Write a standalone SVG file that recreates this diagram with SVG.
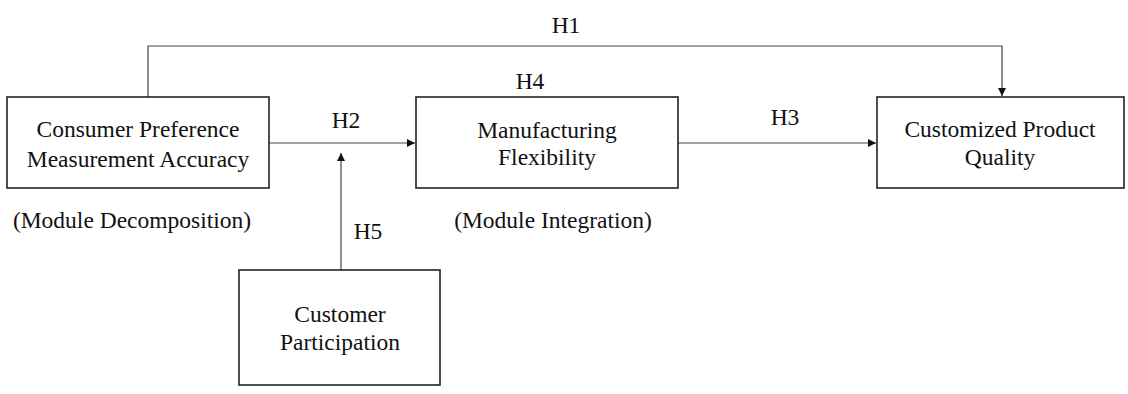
<svg xmlns="http://www.w3.org/2000/svg" width="1128" height="394" viewBox="0 0 1128 394">
  <style>
    .box { fill: #ffffff; stroke: #222222; stroke-width: 1.6; }
    .lbl { font-family: "Liberation Serif", "Times New Roman", serif; font-size: 23.5px; fill: #111111; text-anchor: middle; }
    .edge { fill: none; stroke: #444444; stroke-width: 1.2; }
  </style>
  <defs>
    <marker id="arrow" viewBox="0 0 10 10" refX="10" refY="5" markerWidth="8" markerHeight="8" markerUnits="userSpaceOnUse" orient="auto">
      <path d="M0,0 L10,5 L0,10 Z" fill="#111111"/>
    </marker>
  </defs>
  <rect width="1128" height="394" fill="#ffffff"/>

  <g id="connectors">
    <path id="h1" class="edge" d="M148,97 V46 H1002 V96" marker-end="url(#arrow)"/>
    <path id="h2" class="edge" d="M269,143 H415" marker-end="url(#arrow)"/>
    <path id="h3" class="edge" d="M678,143 H876" marker-end="url(#arrow)"/>
    <path id="h5" class="edge" d="M341,270 V153" marker-end="url(#arrow)"/>
    <text class="lbl" x="566" y="33">H1</text>
    <text class="lbl" x="346" y="128">H2</text>
    <text class="lbl" x="785" y="125">H3</text>
    <text class="lbl" x="530" y="89">H4</text>
    <text class="lbl" x="368" y="239">H5</text>
  </g>

  <g id="consumer-preference">
    <rect class="box" x="7" y="97" width="262" height="91"/>
    <text class="lbl" x="138" y="137">Consumer Preference</text>
    <text class="lbl" x="138" y="167">Measurement Accuracy</text>
    <text class="lbl" x="132" y="228">(Module Decomposition)</text>
  </g>

  <g id="manufacturing-flexibility">
    <rect class="box" x="416" y="97" width="262" height="91"/>
    <text class="lbl" x="547" y="138">Manufacturing</text>
    <text class="lbl" x="547" y="165">Flexibility</text>
    <text class="lbl" x="553" y="228">(Module Integration)</text>
  </g>

  <g id="customized-product-quality">
    <rect class="box" x="877" y="97" width="247" height="91"/>
    <text class="lbl" x="1000" y="137">Customized Product</text>
    <text class="lbl" x="1000" y="165">Quality</text>
  </g>

  <g id="customer-participation">
    <rect class="box" x="239" y="270" width="201" height="115"/>
    <text class="lbl" x="340" y="322">Customer</text>
    <text class="lbl" x="340" y="350">Participation</text>
  </g>
</svg>
